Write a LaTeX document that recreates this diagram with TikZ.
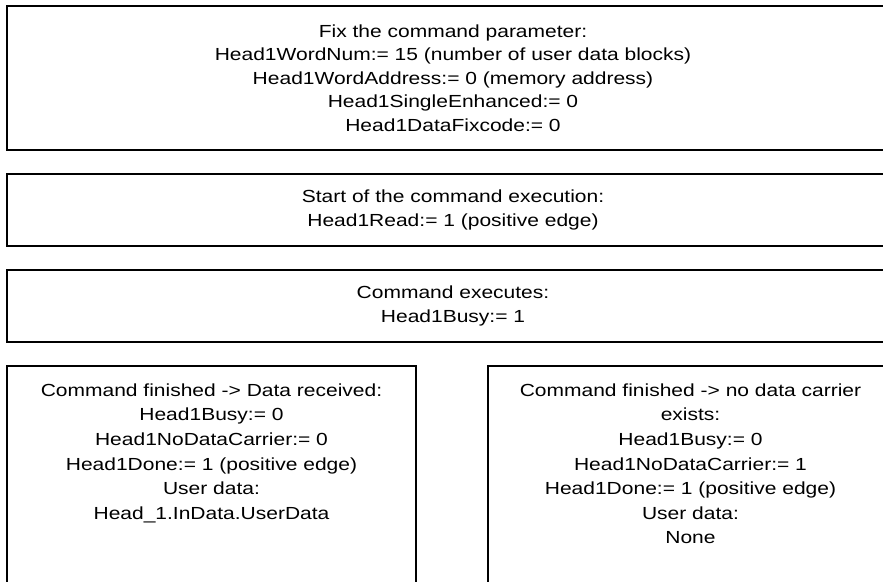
\documentclass[tikz,border=0pt]{standalone}
\usepackage{fontspec}
\setmainfont[FakeStretch=1.2]{Liberation Sans}
\usetikzlibrary{positioning}
\tikzstyle{block} = [rectangle, draw, line width=1.6pt, inner sep=0pt, outer sep=0pt,
    minimum width=892pt, align=center, font=\fontsize{17.5}{23.6}\selectfont]
\tikzstyle{block2} = [rectangle, draw, line width=1.6pt, inner sep=0pt, outer sep=0pt,
    minimum width=409pt, minimum height=260pt]
\tikzstyle{txt} = [inner sep=0pt, align=center, font=\fontsize{17.5}{24.6}\selectfont]

\begin{document}
\begin{tikzpicture}[node distance=132pt]
    \useasboundingbox (0pt,0pt) rectangle (883pt,-581pt);
    \clip (0pt,0pt) rectangle (883pt,-581pt);
    % Place nodes
    \node [block, minimum height=144pt] (fixpar) at (453pt,-78pt) {Fix the command parameter:\\
        Head1WordNum:= 15 (number of user data blocks)\\
        Head1WordAddress:= 0 (memory address)\\
        Head1SingleEnhanced:= 0\\
        Head1DataFixcode:= 0};
    \node [block, below of=fixpar, minimum height=72pt] (start) {Start of the command execution:\\
        Head1Read:= 1 (positive edge)};
    \node [block, below of=start, node distance=96pt, minimum height=72pt] (exec) {Command executes:\\
        Head1Busy:= 1};
    \node [block2, below=24pt of exec.south west, anchor=north west] (recv) {};
    \node [block2, minimum width=405pt, right=72pt of recv.north east, anchor=north west] (nocarr) {};

    % Box texts
    \node [txt, below=17.5pt of recv.north] (recvtxt) {Command finished -> Data received:\\
        Head1Busy:= 0\\
        Head1NoDataCarrier:= 0\\
        Head1Done:= 1 (positive edge)\\
        User data:\\
        Head\_1.InData.UserData};
    \node [txt, below=17.5pt of nocarr.north] (nocarrtxt) {Command finished -> no data carrier\\
        exists:\\
        Head1Busy:= 0\\
        Head1NoDataCarrier:= 1\\
        Head1Done:= 1 (positive edge)\\
        User data:\\
        None};
\end{tikzpicture}
\end{document}
